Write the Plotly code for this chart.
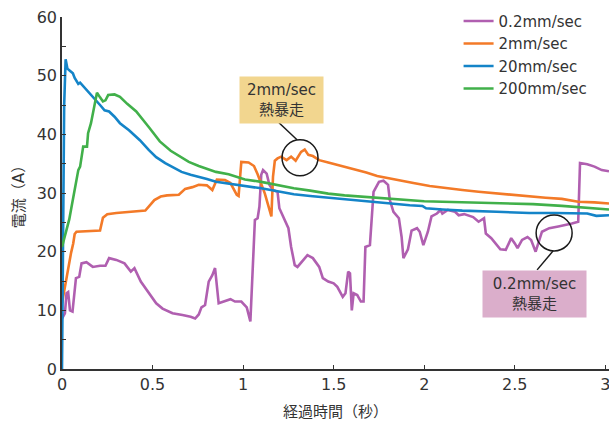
import plotly.graph_objects as go

# Elapsed time (s) and current (A) for each feed speed
t_02 = [0, 0.016, 0.025, 0.034, 0.044, 0.058, 0.077, 0.095, 0.108, 0.135, 0.17, 0.21, 0.24, 0.26, 0.3,
        0.345, 0.38, 0.40, 0.435, 0.48, 0.52, 0.555, 0.61, 0.665, 0.71, 0.735, 0.755, 0.77, 0.79, 0.81,
        0.83, 0.845, 0.865, 0.93, 0.955, 0.99, 1.02, 1.04, 1.05, 1.065, 1.08, 1.09, 1.10, 1.11, 1.13,
        1.145, 1.165, 1.19, 1.2, 1.23, 1.25, 1.265, 1.285, 1.30, 1.355, 1.385, 1.42, 1.44, 1.47, 1.50,
        1.52, 1.55, 1.565, 1.58, 1.59, 1.60, 1.61, 1.63, 1.65, 1.665, 1.675, 1.70, 1.72, 1.75, 1.775,
        1.80, 1.81, 1.83, 1.86, 1.875, 1.885, 1.91, 1.93, 1.96, 1.975, 1.995, 2.02, 2.04, 2.07, 2.09,
        2.10, 2.13, 2.17, 2.19, 2.22, 2.27, 2.30, 2.33, 2.34, 2.37, 2.40, 2.42, 2.45, 2.48, 2.50, 2.515,
        2.54, 2.57, 2.59, 2.605, 2.615, 2.65, 2.69, 2.74, 2.78, 2.815, 2.85, 2.86, 2.90, 2.94, 2.98, 3.02]
i_02 = [8.6, 9.5, 12.9, 13.1, 10.0, 9.8, 15.5, 15.7, 18.0, 18.2, 17.4, 17.6, 17.6, 18.9, 18.6,
        18.0, 16.6, 17.2, 14.9, 12.9, 11.2, 10.3, 9.5, 9.2, 8.9, 8.6, 9.3, 10.5, 10.9, 14.9,
        16.0, 17.2, 11.2, 11.9, 11.5, 11.5, 10.5, 8.1, 16.3, 25.4, 25.7, 27.7, 33.1, 33.9, 33.3,
        31.4, 30.5, 30.2, 27.4, 25.4, 24.0, 20.8, 17.7, 17.4, 19.4, 18.9, 17.4, 15.5, 14.9, 14.6,
        14.0, 12.3, 12.9, 16.6, 16.3, 10.0, 12.9, 12.6, 11.5, 11.5, 20.8, 21.1, 30.2, 31.9, 32.1,
        31.4, 28.8, 26.8, 25.7, 22.5, 18.9, 20.4, 23.6, 24.0, 23.4, 21.1, 23.4, 26.0, 26.5, 27.1,
        26.5, 27.1, 26.8, 26.2, 26.4, 25.9, 25.1, 25.7, 23.1, 22.3, 21.1, 20.4, 20.3, 22.3, 21.4, 20.6,
        22.0, 22.5, 22.0, 20.6, 20.0, 23.4, 24.0, 24.3, 24.5, 24.8, 25.1, 35.1, 34.9, 34.5, 33.9, 33.7]

t_2 = [0, 0.016, 0.034, 0.05, 0.062, 0.07, 0.08, 0.12, 0.16, 0.21, 0.226, 0.25, 0.3, 0.38, 0.46, 0.51,
       0.545, 0.58, 0.645, 0.68, 0.72, 0.755, 0.8, 0.83, 0.855, 0.9, 0.93, 0.965, 0.975, 0.99, 1.03,
       1.06, 1.08, 1.12, 1.15, 1.156, 1.165, 1.175, 1.19, 1.21, 1.24, 1.265, 1.29, 1.32, 1.34, 1.36,
       1.385, 1.42, 1.47, 1.52, 1.58, 1.63, 1.68, 1.74, 1.8, 1.85, 1.94, 2.03, 2.12, 2.21, 2.3, 2.4,
       2.5, 2.58, 2.67, 2.76, 2.85, 2.94, 3.02]
i_2 = [11.2, 14.0, 17.4, 19.8, 21.4, 23.0, 23.4, 23.5, 23.5, 23.6, 25.8, 26.4, 26.6, 26.8, 27.0, 28.8,
       29.4, 29.6, 29.7, 30.7, 31.0, 31.4, 31.3, 30.5, 32.3, 32.2, 31.7, 29.7, 29.5, 35.3, 35.2,
       34.6, 33.2, 29.9, 26.8, 26.0, 32.8, 35.5, 35.9, 36.2, 35.6, 36.2, 35.5, 37.0, 37.4, 36.5,
       36.3, 35.6, 35.2, 34.8, 34.3, 33.9, 33.5, 32.9, 32.5, 32.2, 31.7, 31.2, 30.8, 30.5, 30.2, 29.9,
       29.6, 29.4, 29.2, 29.0, 28.5, 28.4, 28.2]

t_20 = [0, 0.005, 0.012, 0.02, 0.03, 0.045, 0.06, 0.07, 0.08, 0.09, 0.1, 0.13, 0.17, 0.21, 0.235, 0.26,
        0.29, 0.32, 0.37, 0.43, 0.48, 0.52, 0.57, 0.62, 0.66, 0.71, 0.755, 0.8, 0.85, 0.92, 1.01, 1.1,
        1.19, 1.28, 1.37, 1.47, 1.56, 1.65, 1.74, 1.83, 1.92, 1.99, 2.01, 2.1, 2.21, 2.4, 2.58, 2.72,
        2.85, 2.9, 2.95, 3.02]
i_20 = [0, 22.0, 45.0, 52.8, 51.2, 50.8, 50.4, 49.6, 49.0, 48.6, 48.8, 47.8, 46.4, 45.0, 44.1, 43.9,
        43.0, 41.9, 40.7, 39.0, 37.3, 36.1, 35.1, 34.2, 33.6, 33.1, 32.8, 32.4, 31.9, 31.6, 31.2, 30.8,
        30.3, 29.8, 29.5, 29.2, 28.9, 28.7, 28.4, 28.1, 27.9, 27.8, 27.4, 27.2, 27.0, 26.8, 26.6, 26.6,
        26.5, 26.5, 26.1, 26.2]

t_200 = [0, 0.01, 0.025, 0.04, 0.053, 0.07, 0.08, 0.09, 0.1, 0.108, 0.117, 0.138, 0.144, 0.16, 0.17,
         0.18, 0.193, 0.21, 0.226, 0.24, 0.255, 0.29, 0.32, 0.36, 0.41, 0.48, 0.54, 0.6, 0.7, 0.755,
         0.85, 0.92, 1.01, 1.1, 1.19, 1.28, 1.37, 1.47, 1.56, 1.65, 1.74, 1.83, 1.92, 2.0, 2.1, 2.2,
         2.4, 2.6, 2.76, 2.88, 3.02]
i_200 = [20.8, 22.0, 23.3, 25.5, 27.7, 30.5, 32.0, 33.9, 34.5, 36.2, 37.9, 37.9, 40.2, 41.9, 43.5,
         45.0, 47.1, 46.3, 45.6, 45.8, 46.7, 46.8, 46.4, 45.2, 43.9, 41.2, 38.8, 37.2, 35.3, 34.6,
         33.6, 33.2, 32.3, 31.9, 31.3, 30.8, 30.4, 29.9, 29.6, 29.4, 29.1, 28.9, 28.8, 28.6, 28.5, 28.4,
         28.3, 28.1, 27.8, 27.5, 27.2]

series = [
    ("0.2mm/sec", t_02, i_02, "#b05fb0"),
    ("2mm/sec", t_2, i_2, "#f37a28"),
    ("20mm/sec", t_20, i_20, "#1484c8"),
    ("200mm/sec", t_200, i_200, "#41b04a"),
]

x_ticks = [0, 0.5, 1, 1.5, 2, 2.5, 3]
x_tick_labels = ["0", "0.5", "1", "1.5", "2", "2.5", "3"]

# Thermal-runaway callouts: (time, current) centre of the ringed region
runaway_2 = (1.314, 36.0)
runaway_02 = (2.717, 23.2)

FONT = "DejaVu Sans, Noto Sans CJK JP, sans-serif"
INK = "#333333"

fig = go.Figure()
for name, t, i, color in series:
    fig.add_trace(go.Scatter(x=t, y=i, mode="lines", name=name,
                             line=dict(color=color, width=2.6)))

shapes = []
annotations = []
for (cx, cy), label, bg, w, dx, dy, lx0, ly0, lx1, ly1 in [
    (runaway_2, "2mm/sec<br>熱暴走", "#f2d68f", 83, -18.5, 58, -21, 35, -3, 18),
    (runaway_02, "0.2mm/sec<br>熱暴走", "#dbaecb", 103, -19.5, -61, -17, -37, -1, -18),
]:
    shapes.append(dict(type="circle", xref="x", yref="y", xsizemode="pixel", ysizemode="pixel",
                       xanchor=cx, yanchor=cy, x0=-18, x1=18, y0=-18, y1=18,
                       line=dict(color="#1a1a1a", width=1.5)))
    shapes.append(dict(type="line", xref="x", yref="y", xsizemode="pixel", ysizemode="pixel",
                       xanchor=cx, yanchor=cy, x0=lx0, y0=ly0, x1=lx1, y1=ly1,
                       line=dict(color="#1a1a1a", width=1.5)))
    annotations.append(dict(x=cx, y=cy, xref="x", yref="y", text=label, showarrow=False,
                            xshift=dx, yshift=dy, bgcolor=bg, borderpad=0,
                            width=w, height=46,
                            font=dict(family=FONT, size=15, color=INK), align="center"))

fig.update_layout(
    width=609, height=428,
    margin=dict(l=62, r=0, t=17, b=59),
    paper_bgcolor="white", plot_bgcolor="white",
    font=dict(family=FONT, size=15, color=INK),
    showlegend=True,
    legend=dict(x=0.725, y=1.035, xanchor="left", yanchor="top", bgcolor="rgba(0,0,0,0)",
                font=dict(family=FONT, size=15, color=INK), tracegroupgap=0, itemwidth=30),
    shapes=shapes,
    annotations=annotations,
    xaxis=dict(range=[0, 3.02], tickvals=x_ticks, ticktext=x_tick_labels,
               ticks="inside", ticklen=4, tickcolor=INK, showline=True, linecolor=INK,
               linewidth=1.5, showgrid=False, zeroline=False, ticklabeloverflow="allow",
               tickfont=dict(family=FONT, size=16, color=INK),
               title=dict(text="経過時間（秒）", font=dict(family=FONT, size=15, color=INK), standoff=14)),
    yaxis=dict(range=[0, 60], dtick=10, ticks="inside", ticklen=4, tickcolor=INK,
               minor=dict(dtick=5, ticks="inside", ticklen=4, tickcolor=INK),
               showline=True, linecolor=INK, linewidth=1.5, showgrid=False, zeroline=False,
               tickfont=dict(family=FONT, size=16, color=INK),
               title=dict(text="電流（A）", font=dict(family=FONT, size=15, color=INK), standoff=8)),
)

fig.write_html("out.html")
